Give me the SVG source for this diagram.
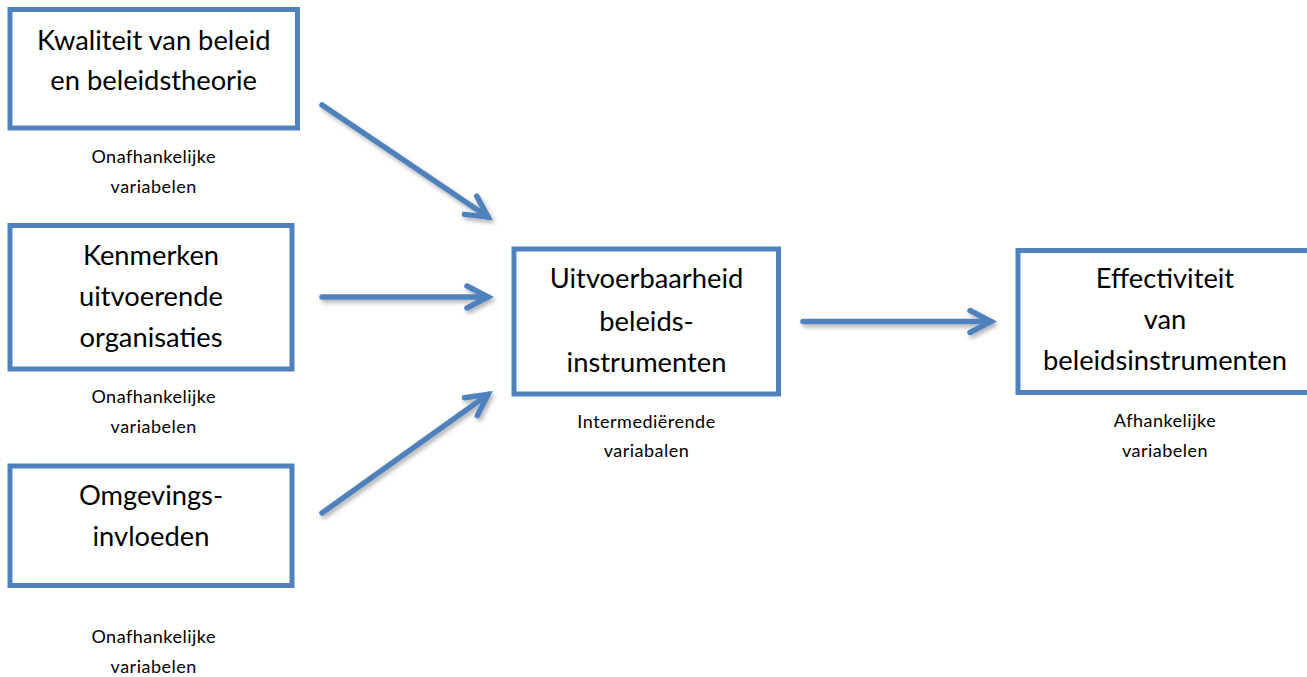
<svg xmlns="http://www.w3.org/2000/svg" width="1307" height="677" viewBox="0 0 1307 677">
<style>
.box{fill:#fff;stroke:#4F81BD;stroke-width:5}
.t{font-family:Lato,"Open Sans","Liberation Sans",sans-serif;font-size:27.3px;fill:#000;text-anchor:middle}
.s{font-family:Lato,"Open Sans","Liberation Sans",sans-serif;font-size:18px;letter-spacing:0.5px;fill:#000;text-anchor:middle}
.c{fill:none;stroke:#4F81BD;stroke-width:5.5;stroke-linecap:round}
</style>
<defs>
<filter id="sh" x="-20%" y="-20%" width="140%" height="140%">
<feDropShadow dx="2" dy="3" stdDeviation="2" flood-color="#000" flood-opacity="0.3"/>
</filter>
<marker id="ah" markerUnits="userSpaceOnUse" viewBox="-30 -20 40 40" refX="0" refY="0" markerWidth="40" markerHeight="40" orient="auto">
<path d="M -21 -11 L 0 0 L -21 11" fill="none" stroke="#4F81BD" stroke-width="5.5" stroke-linecap="round" stroke-linejoin="miter"/>
</marker>
</defs>
<rect width="1307" height="677" fill="#fff"/>
<g id="connectors" filter="url(#sh)">
<path class="c" d="M 322 105 L 488 217" marker-end="url(#ah)"/>
<path class="c" d="M 322 297 L 488 297" marker-end="url(#ah)"/>
<path class="c" d="M 322 513 L 488 394.5" marker-end="url(#ah)"/>
<path class="c" d="M 803 321.5 L 991 321.5" marker-end="url(#ah)"/>
</g>
<g id="kwaliteit">
<rect class="box" x="10" y="9.5" width="287.5" height="118.5"/>
<text class="t" x="153.7" y="50">Kwaliteit van beleid</text>
<text class="t" x="153.7" y="90">en beleidstheorie</text>
<text class="s" x="153.7" y="163">Onafhankelijke</text>
<text class="s" x="153.7" y="193">variabelen</text>
</g>
<g id="kenmerken">
<rect class="box" x="10" y="225.5" width="282" height="143.5"/>
<text class="t" x="151" y="265">Kenmerken</text>
<text class="t" x="151" y="306">uitvoerende</text>
<text class="t" x="151" y="347">organisaties</text>
<text class="s" x="153.7" y="403">Onafhankelijke</text>
<text class="s" x="153.7" y="433">variabelen</text>
</g>
<g id="omgeving">
<rect class="box" x="10" y="466" width="282" height="119.5"/>
<text class="t" x="151" y="505">Omgevings-</text>
<text class="t" x="151" y="546">invloeden</text>
<text class="s" x="153.7" y="643">Onafhankelijke</text>
<text class="s" x="153.7" y="673">variabelen</text>
</g>
<g id="uitvoerbaarheid">
<rect class="box" x="514" y="249" width="264.5" height="145"/>
<text class="t" x="646.5" y="288">Uitvoerbaarheid</text>
<text class="t" x="646.5" y="331">beleids-</text>
<text class="t" x="646.5" y="372">instrumenten</text>
<text class="s" x="646.5" y="428">Intermediërende</text>
<text class="s" x="646.5" y="457">variabalen</text>
</g>
<g id="effectiviteit">
<rect class="box" x="1018" y="250.5" width="320" height="142"/>
<text class="t" x="1165" y="288">Effectiviteit</text>
<text class="t" x="1165" y="329">van</text>
<text class="t" x="1165" y="370">beleidsinstrumenten</text>
<text class="s" x="1165" y="427">Afhankelijke</text>
<text class="s" x="1165" y="457">variabelen</text>
</g>
</svg>
